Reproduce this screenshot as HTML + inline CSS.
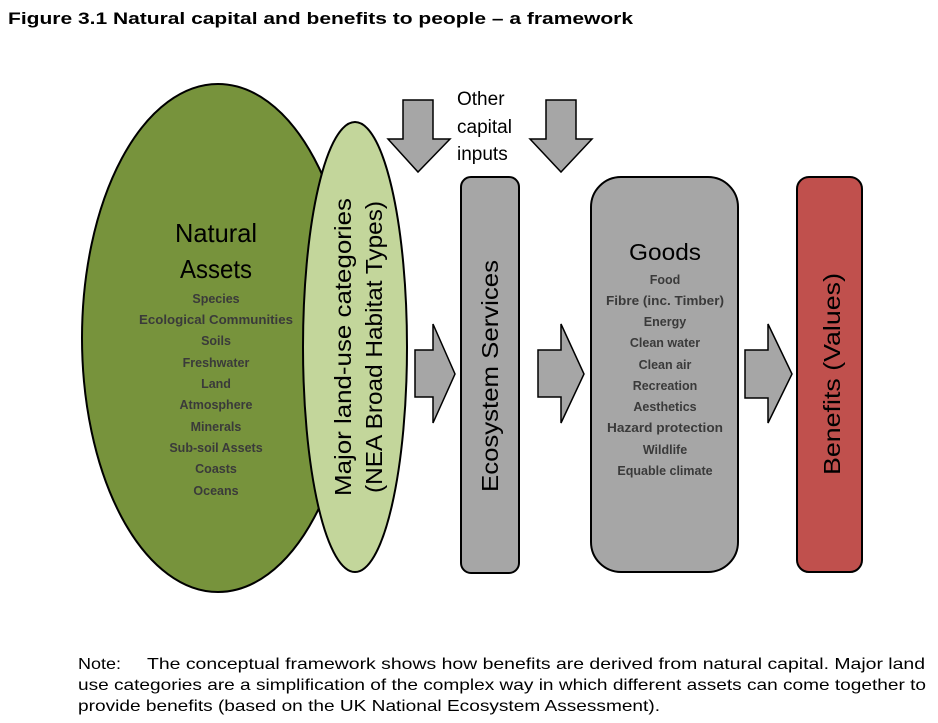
<!DOCTYPE html>
<html><head><meta charset="utf-8"><style>
html,body{margin:0;padding:0;background:#fff;}
svg{display:block;}
</style></head><body>
<svg width="938" height="723" viewBox="0 0 938 723" xmlns="http://www.w3.org/2000/svg">
<text x="8" y="24" font-family="Liberation Sans, sans-serif" font-weight="bold" font-size="17" fill="#000" textLength="625" lengthAdjust="spacingAndGlyphs">Figure 3.1 Natural capital and benefits to people – a framework</text>

<ellipse cx="218" cy="338" rx="136" ry="254" fill="#77933c" stroke="#000" stroke-width="2"/>
<ellipse cx="355" cy="347" rx="52" ry="225" fill="#c3d69b" stroke="#000" stroke-width="2"/>

<g font-family="Liberation Sans, sans-serif" fill="#000" text-anchor="middle">
<text x="216" y="242" font-size="26" textLength="82" lengthAdjust="spacingAndGlyphs">Natural</text>
<text x="216" y="278" font-size="26" textLength="72" lengthAdjust="spacingAndGlyphs">Assets</text>
</g>
<g font-family="Liberation Sans, sans-serif" fill="#3a3a3a" font-weight="bold" font-size="12.5" text-anchor="middle">
<text x="216" y="303">Species</text>
<text x="216" y="324" textLength="154" lengthAdjust="spacingAndGlyphs">Ecological Communities</text>
<text x="216" y="345">Soils</text>
<text x="216" y="367">Freshwater</text>
<text x="216" y="388">Land</text>
<text x="216" y="409">Atmosphere</text>
<text x="216" y="431">Minerals</text>
<text x="216" y="452">Sub-soil Assets</text>
<text x="216" y="473">Coasts</text>
<text x="216" y="495">Oceans</text>
</g>

<g font-family="Liberation Sans, sans-serif" font-size="23" fill="#000" text-anchor="middle">
<text transform="translate(351,347) rotate(-90)" textLength="298" lengthAdjust="spacingAndGlyphs">Major land-use categories</text>
<text transform="translate(382,347) rotate(-90)" textLength="292" lengthAdjust="spacingAndGlyphs">(NEA Broad Habitat Types)</text>
</g>

<polygon points="403,100 433,100 433,139 450,139 418,172 388,139 403,139" fill="#a6a6a6" stroke="#000" stroke-width="1.5"/>
<polygon points="546,100 576,100 576,139 592,139 561,172 530,139 546,139" fill="#a6a6a6" stroke="#000" stroke-width="1.5"/>
<g font-family="Liberation Sans, sans-serif" font-size="19" fill="#000">
<text x="457" y="105">Other</text>
<text x="457" y="133">capital</text>
<text x="457" y="160">inputs</text>
</g>

<polygon points="415,350 433,350 433,324 455,374 433,423 433,397 415,397" fill="#a6a6a6" stroke="#000" stroke-width="1.5"/>
<polygon points="538,350 561,350 561,324 584,374 561,423 561,397 538,397" fill="#a6a6a6" stroke="#000" stroke-width="1.5"/>
<polygon points="745,350 768,350 768,324 792,374 768,423 768,398 745,398" fill="#a6a6a6" stroke="#000" stroke-width="1.5"/>

<rect x="461" y="177" width="58" height="396" rx="10" fill="#a6a6a6" stroke="#000" stroke-width="2"/>
<text transform="translate(498,376) rotate(-90)" font-family="Liberation Sans, sans-serif" font-size="23" fill="#000" text-anchor="middle" textLength="232" lengthAdjust="spacingAndGlyphs">Ecosystem Services</text>

<rect x="591" y="177" width="147" height="395" rx="30" fill="#a6a6a6" stroke="#000" stroke-width="2"/>
<text x="665" y="260" font-family="Liberation Sans, sans-serif" font-size="23" fill="#000" text-anchor="middle" textLength="72" lengthAdjust="spacingAndGlyphs">Goods</text>
<g font-family="Liberation Sans, sans-serif" fill="#3a3a3a" font-weight="bold" font-size="12.5" text-anchor="middle">
<text x="665" y="284">Food</text>
<text x="665" y="305" textLength="118" lengthAdjust="spacingAndGlyphs">Fibre (inc. Timber)</text>
<text x="665" y="326">Energy</text>
<text x="665" y="347">Clean water</text>
<text x="665" y="369">Clean air</text>
<text x="665" y="390">Recreation</text>
<text x="665" y="411">Aesthetics</text>
<text x="665" y="432" textLength="116" lengthAdjust="spacingAndGlyphs">Hazard protection</text>
<text x="665" y="454">Wildlife</text>
<text x="665" y="475">Equable climate</text>
</g>

<rect x="797" y="177" width="65" height="395" rx="12" fill="#c0504d" stroke="#000" stroke-width="2"/>
<text transform="translate(840,374) rotate(-90)" font-family="Liberation Sans, sans-serif" font-size="23" fill="#000" text-anchor="middle" textLength="202" lengthAdjust="spacingAndGlyphs">Benefits (Values)</text>

<g font-family="Liberation Sans, sans-serif" font-size="16" fill="#000">
<text x="78" y="669" textLength="43" lengthAdjust="spacingAndGlyphs">Note:</text>
<text x="147" y="669" textLength="778" lengthAdjust="spacingAndGlyphs">The conceptual framework shows how benefits are derived from natural capital. Major land</text>
<text x="78" y="690" textLength="848" lengthAdjust="spacingAndGlyphs">use categories are a simplification of the complex way in which different assets can come together to</text>
<text x="78" y="711" textLength="582" lengthAdjust="spacingAndGlyphs">provide benefits (based on the UK National Ecosystem Assessment).</text>
</g>
</svg>
</body></html>
